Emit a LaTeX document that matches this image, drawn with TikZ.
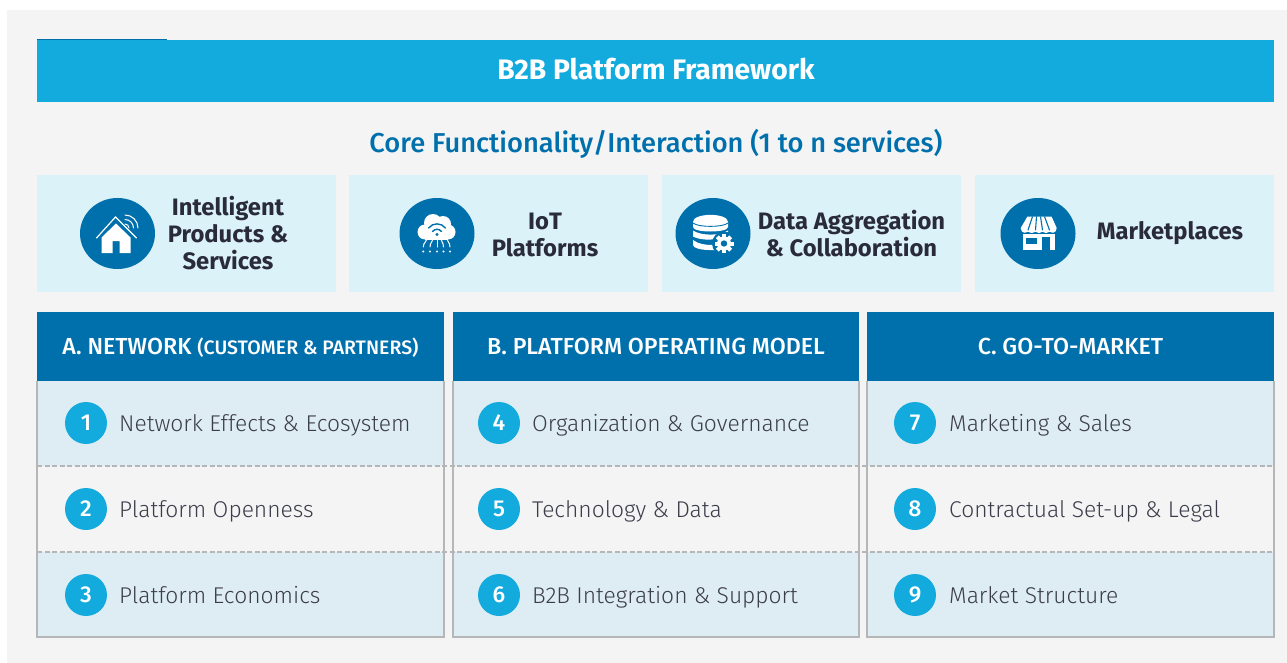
\documentclass[tikz,border=0pt]{standalone}
\usepackage{fontspec}
\setmainfont{Fira Sans}
\newfontfamily\lightf{Fira Sans Light}
\newfontfamily\medf{Fira Sans Medium}
\usetikzlibrary{shapes.geometric}
\definecolor{panel}{HTML}{F4F4F4}
\definecolor{sky}{HTML}{13ABDD}
\definecolor{deep}{HTML}{0070AD}
\definecolor{pale}{HTML}{DCF2F9}
\definecolor{rowc}{HTML}{DEEDF3}
\definecolor{ink}{HTML}{2A2B3A}
\definecolor{inkl}{HTML}{3C3D4A}
\definecolor{edge}{HTML}{B4B6B8}
\tikzset{
  x=1pt,y=-1pt,
  box/.style 2 args={anchor=north west,minimum width=#1,minimum height=#2,inner sep=0,outer sep=0,draw=none},
  cardtxt/.style={font=\fontsize{23.8}{27}\selectfont\bfseries,text=ink,align=center,inner sep=0},
  iconbg/.style={ellipse,fill=deep,minimum width=75pt,minimum height=71pt,inner sep=0},
  headtxt/.style={anchor=base,font=\medf\fontsize{23.2}{27}\selectfont,text=white,inner sep=0},
  numdot/.style={circle,fill=sky,minimum size=42pt,inner sep=0,text=white,font=\medf\fontsize{23}{26}\selectfont},
  rowtxt/.style={anchor=base west,font=\lightf\fontsize{22.8}{28}\selectfont,text=inkl,inner sep=0},
  sep/.style={dash pattern=on 5pt off 2.5pt,draw=edge,line width=1.1pt},
  frameb/.style={draw=edge,line width=1.2pt},
  ic/.style={fill=white,draw=none},
  icl/.style={draw=white,fill=none,line width=1.2pt,line cap=round},
  icd/.style={draw=deep,fill=none,line width=1.4pt,line cap=round}
}
\begin{document}
\begin{tikzpicture}
\useasboundingbox (0,0) rectangle (1287,663);
\fill[panel] (7,10) rectangle (1287,663);
% header
\fill[deep] (37,39) rectangle (167,41);
\node[box={1237pt}{62pt},fill=sky] (hdr) at (37,40) {};
\node[font=\fontsize{28.2}{30}\selectfont\bfseries,text=white,inner sep=0] (title) at (656,69.5) {B2B Platform Framework};
\node[font=\medf\fontsize{27.3}{30}\selectfont,text=deep,inner sep=0] (core) at (656,143.5) {Core Functionality/Interaction (1 to n services)};
% cards
\node[box={299pt}{117pt},fill=pale] (c1) at (37,175) {};
\node[box={299pt}{117pt},fill=pale] (c2) at (349,175) {};
\node[box={299pt}{117pt},fill=pale] (c3) at (662,175) {};
\node[box={299pt}{117pt},fill=pale] (c4) at (975,175) {};
\node[iconbg] (i1) at (117.5,233.5) {};
\node[iconbg] (i2) at (437,233.5) {};
\node[iconbg] (i3) at (713,233.5) {};
\node[iconbg] (i4) at (1038,233.5) {};
\node[cardtxt] (t1) at (228,233) {Intelligent\\Products \&\\Services};
\node[cardtxt] (t2) at (545,235) {IoT\\Platforms};
\node[cardtxt] (t3) at (851.5,234) {Data Aggregation\\\& Collaboration};
\node[cardtxt] (t4) at (1170,233) {Marketplaces};
% house icon
\begin{scope}[shift={(116,233)}]
\fill[ic] (-14.5,20) -- (-14.5,4.5) -- (0,-9.5) -- (14.5,4.5) -- (14.5,20) -- (3.5,20) -- (3.5,8) -- (-3.5,8) -- (-3.5,20) -- cycle;
\draw[icl] (-19.5,5) -- (-.5,-16) -- (20.5,5);
\draw[icl,line width=1pt] (9,-18) arc[start angle=-90,end angle=0,radius=13];
\draw[icl,line width=1pt] (9,-13.5) arc[start angle=-90,end angle=0,radius=8.5];
\draw[icl,line width=1pt] (9,-9) arc[start angle=-90,end angle=0,radius=4];
\end{scope}
% cloud icon
\begin{scope}[shift={(437,233)}]
\fill[ic] (-12,-1) circle (7.5);
\fill[ic] (-4,-10) circle (9);
\fill[ic] (6,-9) circle (8);
\fill[ic] (11,-1) circle (7.5);
\fill[ic] (-12,-6) rectangle (11,6.5);
\draw[icd] (-8.5,-5) .. controls (-4,-10.5) and (4,-10.5) .. (8.5,-5);
\draw[icd] (-4.5,-1.5) .. controls (-2,-4.5) and (2,-4.5) .. (4.5,-1.5);
\fill[deep] (0,1.5) circle (1.6);
\draw[icl,line width=1pt] (-10,6) .. controls (-10,9) and (-13.7,9) .. (-13.7,14);
\draw[icl,line width=1pt] (-4,6) .. controls (-4,9) and (-7,9) .. (-7,14);
\draw[icl,line width=1pt] (0,6) -- (0,14);
\draw[icl,line width=1pt] (4,6) .. controls (4,9) and (6.5,9) .. (6.5,14);
\draw[icl,line width=1pt] (10,6) .. controls (10,9) and (13,9) .. (13,14);
\foreach \xp in {-13.7,-7,0,6.5,13} \fill[white] (\xp,18.5) circle (1.1);
\end{scope}
% database icon
\begin{scope}[shift={(713,233)}]
\fill[ic] (-20,-11) .. controls (-20,-20.5) and (15,-20.5) .. (15,-11) -- (15,-6) .. controls (15,0) and (-20,0) .. (-20,-6) -- cycle;
\draw[draw=deep,line width=.9pt] (-20,-10) .. controls (-15,-5.5) and (10,-5.5) .. (15,-10);
\fill[ic] (-20,-2.5) .. controls (-12,3) and (7,3) .. (15,-2.5) -- (15,1) .. controls (7,8) and (-12,8) .. (-20,3.5) -- cycle;
\fill[ic] (-20,7) .. controls (-15,11) and (-8,12) .. (0,12) -- (4,17) -- (-4,17) .. controls (-12,17) and (-20,15) .. (-20,12) -- cycle;
\fill[deep] (11,10.5) circle (12);
\foreach \a in {0,45,...,315} \fill[white,rotate around={\a:(11,10.5)}] (9,1) rectangle (13,5);
\fill[white] (11,10.5) circle (7);
\fill[deep] (11,10.5) circle (3.2);
\end{scope}
% store icon
\begin{scope}[shift={(1038,233)}]
\fill[ic] (-15.3,-2) rectangle (17,17);
\fill[deep] (-12,4.5) rectangle (-1,10.5);
\fill[deep] (3.5,4) rectangle (12,17);
\fill[deep] (-16,-1.5) rectangle (18,1);
\fill[ic] (-10.5,-16.5) -- (13.5,-16.5) -- (18.7,-5) .. controls (18.7,1) and (11.5,1) .. (11.5,-3)
  .. controls (11.5,1) and (4.5,1) .. (4.5,-3) .. controls (4.5,1) and (-2.5,1) .. (-2.5,-3)
  .. controls (-2.5,1) and (-10,1) .. (-10,-3) .. controls (-10,1) and (-17.3,1) .. (-17.3,-5) -- cycle;
\foreach \xa/\xb in {-5.5/-10,-1.5/-2.5,2.5/4.5,6.5/11.5} \draw[deep,line width=1.1pt] (\xa,-16.5) -- (\xb,-3);
\end{scope}
% columns
\node[box={407pt}{69pt},fill=deep] (ha) at (37,312) {};
\node[box={406pt}{69pt},fill=deep] (hb) at (453,312) {};
\node[box={407pt}{69pt},fill=deep] (hc) at (867,312) {};
\node[headtxt] (la) at (240.5,354.5) {A. NETWORK {\fontsize{19.5}{22}\selectfont(CUSTOMER \& PARTNERS)}};
\node[headtxt] (lb) at (656,354.5) {B. PLATFORM OPERATING MODEL};
\node[headtxt] (lc) at (1070.5,354.5) {C. GO-TO-MARKET};
% rows
\foreach \nm/\xl/\cw in {a/37/407,b/453/406,c/867/407}{
  \node[box={\cw pt}{85pt},fill=rowc] (r\nm1) at (\xl,381) {};
  \node[box={\cw pt}{86pt},fill=panel] (r\nm2) at (\xl,466) {};
  \node[box={\cw pt}{85pt},fill=rowc] (r\nm3) at (\xl,552) {};
  \draw[frameb] (\xl,381) -- (\xl,637) -- (\xl+\cw,637) -- (\xl+\cw,381);
}
\draw[sep] (37,466) -- (1274,466);
\draw[sep] (37,552) -- (1274,552);
% numbered
\node[numdot] (n1) at (86,423) {1};
\node[numdot] (n2) at (86,509) {2};
\node[numdot] (n3) at (86,595) {3};
\node[numdot] (n4) at (499,423) {4};
\node[numdot] (n5) at (499,509) {5};
\node[numdot] (n6) at (499,595) {6};
\node[numdot] (n7) at (915,423) {7};
\node[numdot] (n8) at (915,509) {8};
\node[numdot] (n9) at (915,595) {9};
\node[rowtxt] (x1) at (119,431) {Network Effects \& Ecosystem};
\node[rowtxt] (x2) at (119,517) {Platform Openness};
\node[rowtxt] (x3) at (119,603) {Platform Economics};
\node[rowtxt] (x4) at (532,431) {Organization \& Governance};
\node[rowtxt] (x5) at (532,517) {Technology \& Data};
\node[rowtxt] (x6) at (532,603) {B2B Integration \& Support};
\node[rowtxt] (x7) at (949,431) {Marketing \& Sales};
\node[rowtxt] (x8) at (949,517) {Contractual Set-up \& Legal};
\node[rowtxt] (x9) at (949,603) {Market Structure};
\end{tikzpicture}
\end{document}
